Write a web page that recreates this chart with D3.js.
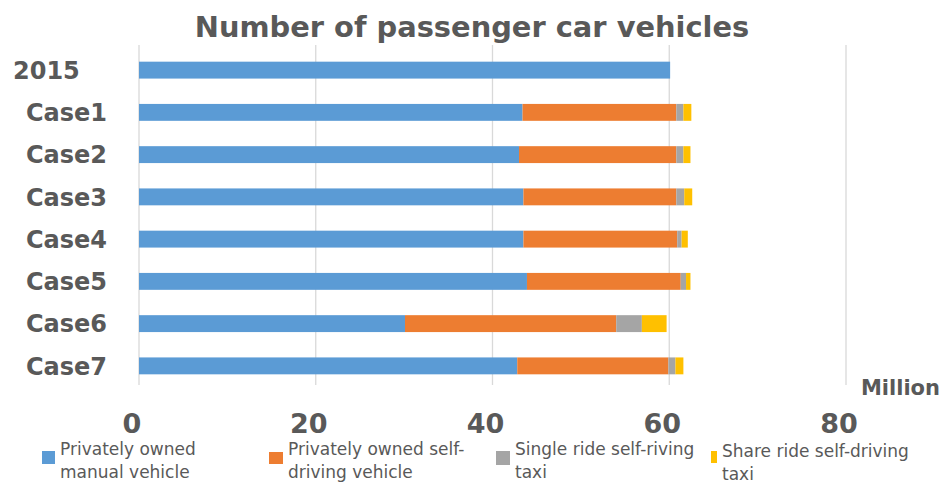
<!DOCTYPE html>
<html>
<head>
<meta charset="utf-8">
<script src="https://cdn.jsdelivr.net/npm/d3@7"></script>
<style>
  html, body { margin: 0; padding: 0; background: #fff; }
  svg { display: block; }
</style>
</head>
<body>
<svg id="chart" width="943" height="483"></svg>
<script>
// ---- Data ----
const categories = ["2015", "Case1", "Case2", "Case3", "Case4", "Case5", "Case6", "Case7"];
const seriesNames = [
  "Privately owned manual vehicle",
  "Privately owned self-driving vehicle",
  "Single ride self-riving taxi",
  "Share ride self-driving taxi"
];
const legendLines = [
  ["Privately owned", "manual vehicle"],
  ["Privately owned self-", "driving vehicle"],
  ["Single ride self-riving", "taxi"],
  ["Share ride self-driving", "taxi"]
];
const manualValues     = [60.1, 43.4, 43.0, 43.5, 43.5, 43.9, 30.1, 42.8];
const selfDrivingValues = [0,   17.4, 17.8, 17.3, 17.4, 17.4, 23.9, 17.1];
const singleTaxiValues  = [0,    0.8,  0.8,  0.9,  0.5,  0.6,  2.9,  0.8];
const shareTaxiValues   = [0,    0.9,  0.8,  0.9,  0.7,  0.5,  2.8,  0.9];
const xTicks = [0, 20, 40, 60, 80];
const unitLabel = "Million";
const titleText = "Number of passenger car vehicles";
const colors = ["#5B9BD5", "#ED7D31", "#A5A5A5", "#FFC000"];

// ---- Build ----
const keys = ["manual", "self", "single", "share"];
const rows = categories.map((c, i) => ({
  cat: c,
  manual: manualValues[i],
  self: selfDrivingValues[i],
  single: singleTaxiValues[i],
  share: shareTaxiValues[i]
}));
const stack = d3.stack().keys(keys)(rows);

const svg = d3.select("#chart");
const textColor = "#595959";
const gridColor = "#D9D9D9";

const x = d3.scaleLinear().domain([0, 80]).range([139, 846]);
const y = d3.scaleBand().domain(categories).range([49, 387]).paddingInner(0.6).paddingOuter(0.3);

// Title
const title = svg.append("text")
  .attr("x", 472).attr("y", 37)
  .attr("text-anchor", "middle")
  .attr("font-family", "'DejaVu Sans', sans-serif")
  .attr("font-weight", "bold")
  .attr("font-size", 28)
  .attr("fill", textColor)
  .text(titleText);
const tw = title.node().getComputedTextLength();
title.attr("font-size", 28 * 555 / tw);

// Gridlines
svg.append("g").selectAll("line").data(xTicks).join("line")
  .attr("x1", d => x(d)).attr("x2", d => x(d))
  .attr("y1", 45).attr("y2", 385)
  .attr("stroke", gridColor).attr("stroke-width", 1.3);

// Bars
svg.append("g").selectAll("g").data(stack).join("g")
  .attr("fill", (d, i) => colors[i])
  .selectAll("rect").data(d => d).join("rect")
  .attr("x", d => x(d[0]))
  .attr("width", d => Math.max(0, x(d[1]) - x(d[0])))
  .attr("y", d => y(d.data.cat))
  .attr("height", y.bandwidth());

// Category labels
svg.append("g").selectAll("text").data(categories).join("text")
  .attr("x", (d, i) => i === 0 ? 13 : 26)
  .attr("y", d => y(d) + y.bandwidth() / 2)
  .attr("dy", "0.36em")
  .attr("font-family", "'DejaVu Sans', sans-serif")
  .attr("font-weight", "bold")
  .attr("font-size", 24)
  .attr("fill", textColor)
  .text(d => d);

// X tick labels
svg.append("g").selectAll("text").data(xTicks).join("text")
  .attr("x", d => x(d) - 7)
  .attr("y", 433)
  .attr("text-anchor", "middle")
  .attr("font-family", "'DejaVu Sans', sans-serif")
  .attr("font-weight", "bold")
  .attr("font-size", 27)
  .attr("fill", textColor)
  .text(d => d);

// Unit label
svg.append("text")
  .attr("x", 940).attr("y", 395)
  .attr("text-anchor", "end")
  .attr("font-family", "'DejaVu Sans', sans-serif")
  .attr("font-weight", "bold")
  .attr("font-size", 21)
  .attr("fill", textColor)
  .text(unitLabel);

// Legend
const legendX = [42, 269, 496, 711];
const legendSq = [[13, 13], [14, 12], [14, 14], [6, 12]];
const legendSqY = [451, 452, 451, 451];
const legendTextY = [455, 455, 455, 457];
const lg = svg.append("g").selectAll("g").data(seriesNames).join("g");
lg.append("rect")
  .attr("x", (d, i) => legendX[i])
  .attr("y", (d, i) => legendSqY[i])
  .attr("width", (d, i) => legendSq[i][0])
  .attr("height", (d, i) => legendSq[i][1])
  .attr("fill", (d, i) => colors[i]);
lg.each(function(d, i) {
  const t = d3.select(this).append("text")
    .attr("font-family", "'DejaVu Sans', sans-serif")
    .attr("font-size", 17)
    .attr("fill", textColor);
  legendLines[i].forEach((line, j) => {
    t.append("tspan")
      .attr("x", legendX[i] + legendSq[i][0] + 5)
      .attr("y", legendTextY[i] + j * 23)
      .text(line);
  });
});
</script>
</body>
</html>
